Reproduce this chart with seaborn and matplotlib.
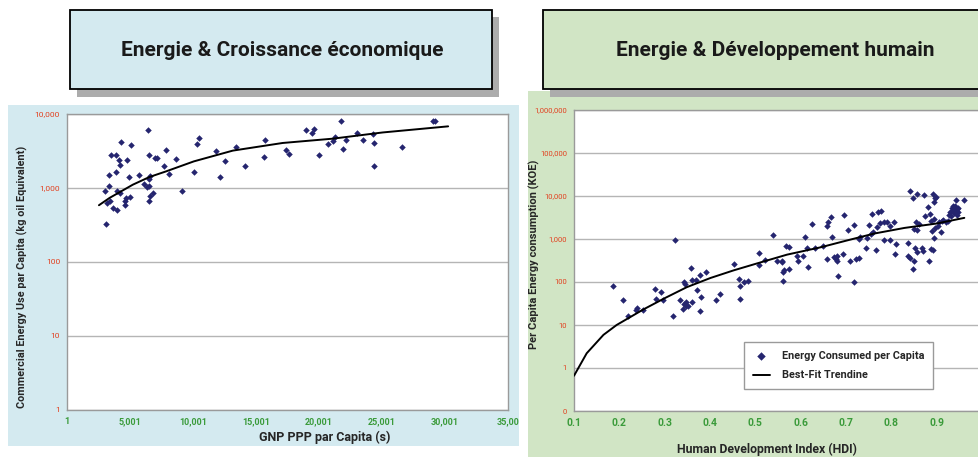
import matplotlib
matplotlib.use("Agg")
import matplotlib.pyplot as plt
import seaborn as sns
import pandas as pd
from matplotlib.patches import Rectangle

# ---- Daten links: Energie & Croissance economique ----
gnp_ppp = [3117, 3038, 3170, 3329, 3329, 3514, 3646, 3408, 3857, 3910, 3990, 4095, 4227, 4307,
           4174, 3963, 4570, 4650, 4782, 4914, 5020, 5073, 4570, 5707, 6077, 6315, 6447, 6474,
           6474, 6500, 6474, 6553, 6606, 6844, 6950, 7161, 7716, 7822, 8086, 8641, 9090, 10070,
           10330, 10490, 11860, 12150, 12520, 13420, 14130, 15670, 15750, 17380, 17650, 19000,
           19450, 19610, 20030, 20690, 21140, 21250, 21720, 21930, 22170, 23040, 23460, 24250,
           24330, 24360, 26550, 29060, 29190]
energie_use = [331, 904, 627, 1050, 1480, 2760, 538, 677, 2760, 1660, 510, 2410, 2040, 4230,
               857, 904, 595, 735, 2410, 1410, 745, 3870, 660, 1480, 1150, 1025, 6150, 2830,
               1340, 660, 1050, 1440, 790, 857, 2560, 2560, 1990, 3250, 1530, 2460, 912, 1660,
               3930, 4780, 3140, 1420, 2340, 3540, 1970, 2600, 4410, 3300, 2880, 6000, 5530,
               6280, 2830, 3990, 4360, 4840, 7940, 3360, 4410, 5530, 4410, 5380, 1970, 4060,
               3620, 8130, 7940]
trend_gnp = [2536, 3382, 5230, 6553, 7875, 10070, 13160, 17120, 21090, 25050, 30250]
trend_use = [585, 735, 1110, 1410, 1680, 2290, 3200, 4060, 4640, 5630, 6810]

gnp_ticks = [1, 5001, 10001, 15001, 20001, 25001, 30001, 35001]
gnp_labels = ["1", "5,001", "10,001", "15,001", "20,001", "25,001", "30,001", "35,00"]
use_ticks = [1, 10, 100, 1000, 10000]
use_labels = ["1", "10", "100", "1,000", "10,000"]

# ---- Daten rechts: Energie & Developpement humain ----
hdi = [0.186, 0.207, 0.219, 0.236, 0.240, 0.253, 0.278, 0.281, 0.292, 0.296, 0.319, 0.323,
       0.334, 0.340, 0.342, 0.343, 0.344, 0.347, 0.348, 0.351, 0.357, 0.360, 0.361, 0.369,
       0.372, 0.378, 0.379, 0.380, 0.392, 0.413, 0.423, 0.453, 0.464, 0.466, 0.467, 0.475,
       0.483, 0.507, 0.507, 0.521, 0.539, 0.547, 0.558, 0.559, 0.560, 0.560, 0.563, 0.568,
       0.575, 0.575, 0.593, 0.595, 0.605, 0.610, 0.613, 0.616, 0.625, 0.632, 0.649, 0.658,
       0.659, 0.661, 0.666, 0.670, 0.674, 0.677, 0.680, 0.680, 0.683, 0.694, 0.696, 0.705,
       0.708, 0.718, 0.717, 0.722, 0.729, 0.729, 0.731, 0.744, 0.747, 0.750, 0.755, 0.758,
       0.760, 0.766, 0.768, 0.771, 0.775, 0.778, 0.783, 0.784, 0.790, 0.796, 0.798, 0.806,
       0.808, 0.810, 0.837, 0.836, 0.841, 0.842, 0.847, 0.848, 0.849, 0.851, 0.852, 0.854,
       0.856, 0.857, 0.857, 0.860, 0.868, 0.870, 0.873, 0.874, 0.880, 0.882, 0.886, 0.888,
       0.888, 0.889, 0.891, 0.892, 0.8935, 0.895, 0.895, 0.897, 0.8995, 0.897, 0.902, 0.906,
       0.910, 0.911, 0.913, 0.921, 0.926, 0.928, 0.930, 0.932, 0.933, 0.936, 0.937, 0.939,
       0.941, 0.941, 0.943, 0.944, 0.945, 0.947, 0.948, 0.960]
koe = [79, 38.6, 16.6, 22.5, 24.2, 22.5, 68, 40.7, 58, 38.6, 16.6, 968,
       38.6, 23.4, 31, 101, 91, 28, 35, 27, 211, 35, 109, 109,
       66, 21, 148, 46, 167, 38.6, 54, 262, 117, 40, 82, 98,
       107, 465, 248, 331, 1245, 302, 315, 287, 168, 103, 186, 677,
       653, 204, 395, 302, 395, 1120, 620, 219, 2240, 620, 677, 349,
       1980, 2460, 3320, 1100, 375, 349, 409, 313, 140, 439, 3580, 1630,
       302, 2170, 101, 343, 361, 1000, 1120, 620, 1060, 2090, 1310, 3840,
       1440, 566, 1880, 4170, 2370, 4600, 968, 2500, 2460, 1980, 968, 2550,
       440, 767, 810, 395, 13300, 361, 200, 9080, 1750, 302, 620, 2500,
       10900, 1660, 490, 2290, 620, 517, 10500, 3390, 5500, 302, 3840, 597,
       2600, 1510, 11200, 566, 7330, 1060, 2990, 9080, 9550, 1840, 2060, 2460,
       1440, 2600, 2740, 2460, 2600, 3700, 4300, 3390, 5300, 4680, 5810, 4060,
       6010, 4630, 8000, 3700, 4900, 4170, 5300, 8000]
trend_hdi = [0.1, 0.128, 0.165, 0.194, 0.253, 0.3, 0.349, 0.401, 0.4525, 0.502, 0.570, 0.644,
             0.701, 0.762, 0.829, 0.9, 0.961]
trend_koe = [0.66, 2.2, 5.9, 10, 23, 42, 76, 124, 187, 267, 433, 641, 918, 1337, 1810, 2290,
             3100]

hdi_ticks = [0.1, 0.2, 0.3, 0.4, 0.5, 0.6, 0.7, 0.8, 0.9]
hdi_labels = ["0.1", "0.2", "0.3", "0.4", "0.5", "0.6", "0.7", "0.8", "0.9"]
koe_ticks = [0.1, 1, 10, 100, 1000, 10000, 100000, 1000000]
koe_labels = ["0", "1", "10", "100", "1,000", "10,000", "100,000", "1,000,000"]

sns.set_style("white")
plt.rcParams['font.family'] = ['Liberation Sans Narrow', 'Roboto', 'DejaVu Sans']

W, H = 979, 457
fig = plt.figure(figsize=(W / 100, H / 100), dpi=100)

bleu = "#d4eaf0"
vert = "#d1e5c5"
rouge = "#e2401f"
vert_tick = "#3b9b3b"
marine = "#25256f"


def rect_px(x0, y0, x1, y1, **kw):
    # Rechteck in Pixelkoordinaten (Ursprung oben links)
    r = Rectangle((x0 / W, 1 - y1 / H), (x1 - x0) / W, (y1 - y0) / H,
                  transform=fig.transFigure, **kw)
    fig.patches.append(r)


# Hintergruende der Diagramme (hinter den Achsen)
rect_px(8, 105, 519, 446, facecolor=bleu, edgecolor="none", zorder=-2)
rect_px(528, 91, 979, 457, facecolor=vert, edgecolor="none", zorder=-2)

# Titelkaesten mit Schatten
rect_px(77, 17, 499, 97, facecolor="#acacac", edgecolor="none", zorder=2)
rect_px(70, 10, 492, 89, facecolor=bleu, edgecolor="black", linewidth=1.3, zorder=3)
rect_px(550, 17, 990, 97, facecolor="#acacac", edgecolor="none", zorder=2)
rect_px(543, 10, 990, 89, facecolor=vert, edgecolor="black", linewidth=1.3, zorder=3)
fig.text(282 / W, 1 - 51 / H, "Energie & Croissance économique", ha="center", va="center",
         fontsize=15, fontweight="bold", color="#1a1a1a", zorder=4)
fig.text(775 / W, 1 - 51 / H, "Energie & Développement humain", ha="center", va="center",
         fontsize=15, fontweight="bold", color="#1a1a1a", zorder=4)


def style_axe(ax):
    ax.set_zorder(1)
    ax.set_facecolor("white")
    for s in ax.spines.values():
        s.set_color("#9a9a9a")
        s.set_linewidth(1)
    ax.tick_params(axis="both", which="major", length=3, color="#9a9a9a", direction="out",
                   pad=2)
    ax.tick_params(axis="both", which="minor", length=0)
    ax.grid(axis="y", which="major", color="#b5b5b5", linewidth=1)
    ax.grid(axis="x", visible=False)
    ax.set_axisbelow(True)


# ---- Diagramm links ----
ax1 = fig.add_axes([67 / W, 1 - 410 / H, 441 / W, 296 / H])
style_axe(ax1)
df_links = pd.DataFrame({"GNP": gnp_ppp, "Energie": energie_use})
df_trend_links = pd.DataFrame({"GNP": trend_gnp, "Energie": trend_use})
sns.scatterplot(data=df_links, x="GNP", y="Energie", ax=ax1, marker="D", s=11,
                color=marine, linewidth=0, zorder=3)
sns.lineplot(data=df_trend_links, x="GNP", y="Energie", ax=ax1, color="black",
             linewidth=1.4, zorder=4)
ax1.set_yscale("log")
ax1.set_xlim(1, 35001)
ax1.set_ylim(1, 10000)
ax1.set_xticks(gnp_ticks)
ax1.set_xticklabels(gnp_labels, color=vert_tick, fontsize=6.5, fontweight="bold")
ax1.set_yticks(use_ticks)
ax1.set_yticklabels(use_labels, color=rouge, fontsize=6)
ax1.set_xlabel("GNP PPP par Capita (s)", fontsize=9, fontweight="bold")
ax1.set_ylabel("Commercial Energy Use par Capita (kg oil Equivalent)", fontsize=7.8,
               fontweight="bold")
ax1.xaxis.set_label_coords(0.585, -0.07)
ax1.yaxis.set_label_coords(-0.088, 0.45)

# ---- Diagramm rechts ----
ax2 = fig.add_axes([574 / W, 1 - 411 / H, 408 / W, 301 / H])
style_axe(ax2)
df_rechts = pd.DataFrame({"HDI": hdi, "KOE": koe})
df_trend_rechts = pd.DataFrame({"HDI": trend_hdi, "KOE": trend_koe})
sns.scatterplot(data=df_rechts, x="HDI", y="KOE", ax=ax2, marker="D", s=11,
                color=marine, linewidth=0, zorder=3, label="Energy Consumed per Capita")
sns.lineplot(data=df_trend_rechts, x="HDI", y="KOE", ax=ax2, color="black",
             linewidth=1.4, zorder=4, label="Best-Fit Trendine")
ax2.set_yscale("log")
ax2.set_xlim(0.1, 1.0)
ax2.set_ylim(0.1, 1000000)
ax2.set_xticks(hdi_ticks)
ax2.set_xticklabels(hdi_labels, color=vert_tick, fontsize=7.5, fontweight="bold")
ax2.set_yticks(koe_ticks)
ax2.set_yticklabels(koe_labels, color=rouge, fontsize=5.5)
ax2.set_xlabel("Human Development Index (HDI)", fontsize=8.8, fontweight="bold")
ax2.set_ylabel("Per Capita Energy consumption (KOE)", fontsize=8, fontweight="bold")
ax2.xaxis.set_label_coords(0.473, -0.105)
ax2.yaxis.set_label_coords(-0.083, 0.52)
leg = ax2.legend(loc="upper left", bbox_to_anchor=(0.417, 0.229), borderaxespad=0,
                 frameon=True, fancybox=False, prop={"size": 7.8, "weight": "bold"},
                 borderpad=0.8, labelspacing=0.9, handlelength=1.6, handletextpad=1.1,
                 markerscale=1.3, framealpha=1)
leg.get_frame().set_edgecolor("#9a9a9a")
leg.get_frame().set_linewidth(1)

fig.savefig("out.png", dpi=100)
